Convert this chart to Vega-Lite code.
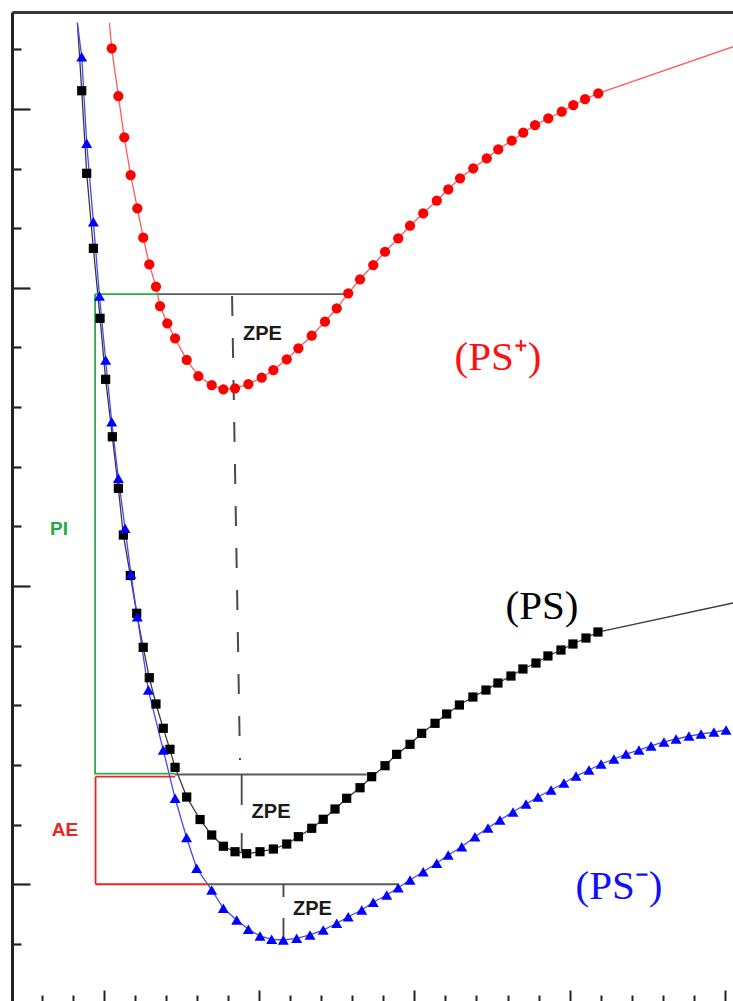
{
  "$schema": "https://vega.github.io/schema/vega-lite/v6.json",
  "width": 724,
  "height": 989,
  "autosize": {"type": "none"},
  "padding": {"left": 12, "top": 12, "right": -3, "bottom": 0},
  "background": "white",
  "config": {"view": {"stroke": null}},
  "datasets": {
    "curves": [
      {"state": "PS+", "r": 1.036, "E": 16.445, "sampled": false},
      {"state": "PS+", "r": 1.051, "E": 16.016, "sampled": true},
      {"state": "PS+", "r": 1.094, "E": 15.216, "sampled": true},
      {"state": "PS+", "r": 1.132, "E": 14.524, "sampled": true},
      {"state": "PS+", "r": 1.173, "E": 13.891, "sampled": true},
      {"state": "PS+", "r": 1.216, "E": 13.333, "sampled": true},
      {"state": "PS+", "r": 1.254, "E": 12.84, "sampled": true},
      {"state": "PS+", "r": 1.293, "E": 12.394, "sampled": true},
      {"state": "PS+", "r": 1.336, "E": 12.022, "sampled": true},
      {"state": "PS+", "r": 1.362, "E": 11.695, "sampled": true},
      {"state": "PS+", "r": 1.409, "E": 11.405, "sampled": true},
      {"state": "PS+", "r": 1.459, "E": 11.154, "sampled": true},
      {"state": "PS+", "r": 1.534, "E": 10.79, "sampled": true},
      {"state": "PS+", "r": 1.609, "E": 10.521, "sampled": true},
      {"state": "PS+", "r": 1.695, "E": 10.37, "sampled": true},
      {"state": "PS+", "r": 1.77, "E": 10.298, "sampled": true},
      {"state": "PS+", "r": 1.845, "E": 10.315, "sampled": true},
      {"state": "PS+", "r": 1.931, "E": 10.387, "sampled": true},
      {"state": "PS+", "r": 2.017, "E": 10.493, "sampled": true},
      {"state": "PS+", "r": 2.092, "E": 10.622, "sampled": true},
      {"state": "PS+", "r": 2.178, "E": 10.801, "sampled": true},
      {"state": "PS+", "r": 2.253, "E": 10.986, "sampled": true},
      {"state": "PS+", "r": 2.339, "E": 11.197, "sampled": true},
      {"state": "PS+", "r": 2.424, "E": 11.432, "sampled": true},
      {"state": "PS+", "r": 2.5, "E": 11.657, "sampled": true},
      {"state": "PS+", "r": 2.574, "E": 11.908, "sampled": true},
      {"state": "PS+", "r": 2.65, "E": 12.143, "sampled": true},
      {"state": "PS+", "r": 2.735, "E": 12.382, "sampled": true},
      {"state": "PS+", "r": 2.811, "E": 12.605, "sampled": true},
      {"state": "PS+", "r": 2.896, "E": 12.83, "sampled": true},
      {"state": "PS+", "r": 2.972, "E": 13.041, "sampled": true},
      {"state": "PS+", "r": 3.057, "E": 13.249, "sampled": true},
      {"state": "PS+", "r": 3.144, "E": 13.461, "sampled": true},
      {"state": "PS+", "r": 3.218, "E": 13.652, "sampled": true},
      {"state": "PS+", "r": 3.294, "E": 13.836, "sampled": true},
      {"state": "PS+", "r": 3.379, "E": 14.004, "sampled": true},
      {"state": "PS+", "r": 3.466, "E": 14.172, "sampled": true},
      {"state": "PS+", "r": 3.54, "E": 14.323, "sampled": true},
      {"state": "PS+", "r": 3.627, "E": 14.467, "sampled": true},
      {"state": "PS+", "r": 3.701, "E": 14.601, "sampled": true},
      {"state": "PS+", "r": 3.777, "E": 14.73, "sampled": true},
      {"state": "PS+", "r": 3.862, "E": 14.842, "sampled": true},
      {"state": "PS+", "r": 3.949, "E": 14.953, "sampled": true},
      {"state": "PS+", "r": 4.023, "E": 15.065, "sampled": true},
      {"state": "PS+", "r": 4.099, "E": 15.166, "sampled": true},
      {"state": "PS+", "r": 4.184, "E": 15.262, "sampled": true},
      {"state": "PS+", "r": 5.071, "E": 16.06, "sampled": false},

      {"state": "PS", "r": 0.83, "E": 16.445, "sampled": false},
      {"state": "PS", "r": 0.858, "E": 15.305, "sampled": true},
      {"state": "PS", "r": 0.89, "E": 13.92, "sampled": true},
      {"state": "PS", "r": 0.933, "E": 12.662, "sampled": true},
      {"state": "PS", "r": 0.976, "E": 11.489, "sampled": true},
      {"state": "PS", "r": 1.012, "E": 10.466, "sampled": true},
      {"state": "PS", "r": 1.055, "E": 9.503, "sampled": true},
      {"state": "PS", "r": 1.094, "E": 8.638, "sampled": true},
      {"state": "PS", "r": 1.126, "E": 7.855, "sampled": true},
      {"state": "PS", "r": 1.171, "E": 7.176, "sampled": true},
      {"state": "PS", "r": 1.212, "E": 6.543, "sampled": true},
      {"state": "PS", "r": 1.254, "E": 5.972, "sampled": true},
      {"state": "PS", "r": 1.293, "E": 5.463, "sampled": true},
      {"state": "PS", "r": 1.336, "E": 5.022, "sampled": true},
      {"state": "PS", "r": 1.383, "E": 4.614, "sampled": true},
      {"state": "PS", "r": 1.426, "E": 4.262, "sampled": true},
      {"state": "PS", "r": 1.459, "E": 3.96, "sampled": true},
      {"state": "PS", "r": 1.534, "E": 3.462, "sampled": true},
      {"state": "PS", "r": 1.62, "E": 3.085, "sampled": true},
      {"state": "PS", "r": 1.695, "E": 2.825, "sampled": true},
      {"state": "PS", "r": 1.77, "E": 2.637, "sampled": true},
      {"state": "PS", "r": 1.845, "E": 2.545, "sampled": true},
      {"state": "PS", "r": 1.92, "E": 2.512, "sampled": true},
      {"state": "PS", "r": 2.006, "E": 2.545, "sampled": true},
      {"state": "PS", "r": 2.092, "E": 2.59, "sampled": true},
      {"state": "PS", "r": 2.178, "E": 2.674, "sampled": true},
      {"state": "PS", "r": 2.253, "E": 2.797, "sampled": true},
      {"state": "PS", "r": 2.339, "E": 2.938, "sampled": true},
      {"state": "PS", "r": 2.413, "E": 3.089, "sampled": true},
      {"state": "PS", "r": 2.489, "E": 3.261, "sampled": true},
      {"state": "PS", "r": 2.564, "E": 3.441, "sampled": true},
      {"state": "PS", "r": 2.65, "E": 3.618, "sampled": true},
      {"state": "PS", "r": 2.725, "E": 3.803, "sampled": true},
      {"state": "PS", "r": 2.811, "E": 3.987, "sampled": true},
      {"state": "PS", "r": 2.886, "E": 4.178, "sampled": true},
      {"state": "PS", "r": 2.972, "E": 4.346, "sampled": true},
      {"state": "PS", "r": 3.047, "E": 4.53, "sampled": true},
      {"state": "PS", "r": 3.133, "E": 4.698, "sampled": true},
      {"state": "PS", "r": 3.208, "E": 4.854, "sampled": true},
      {"state": "PS", "r": 3.29, "E": 5.005, "sampled": true},
      {"state": "PS", "r": 3.377, "E": 5.139, "sampled": true},
      {"state": "PS", "r": 3.461, "E": 5.256, "sampled": true},
      {"state": "PS", "r": 3.538, "E": 5.374, "sampled": true},
      {"state": "PS", "r": 3.622, "E": 5.491, "sampled": true},
      {"state": "PS", "r": 3.699, "E": 5.609, "sampled": true},
      {"state": "PS", "r": 3.783, "E": 5.709, "sampled": true},
      {"state": "PS", "r": 3.86, "E": 5.827, "sampled": true},
      {"state": "PS", "r": 3.944, "E": 5.927, "sampled": true},
      {"state": "PS", "r": 4.021, "E": 6.028, "sampled": true},
      {"state": "PS", "r": 4.105, "E": 6.128, "sampled": true},
      {"state": "PS", "r": 4.182, "E": 6.229, "sampled": true},
      {"state": "PS", "r": 5.071, "E": 6.726, "sampled": false},

      {"state": "PS-", "r": 0.83, "E": 16.445, "sampled": false},
      {"state": "PS-", "r": 0.858, "E": 15.875, "sampled": true},
      {"state": "PS-", "r": 0.89, "E": 14.423, "sampled": true},
      {"state": "PS-", "r": 0.933, "E": 13.109, "sampled": true},
      {"state": "PS-", "r": 0.972, "E": 11.863, "sampled": true},
      {"state": "PS-", "r": 1.012, "E": 10.79, "sampled": true},
      {"state": "PS-", "r": 1.051, "E": 9.755, "sampled": true},
      {"state": "PS-", "r": 1.094, "E": 8.806, "sampled": true},
      {"state": "PS-", "r": 1.137, "E": 7.968, "sampled": true},
      {"state": "PS-", "r": 1.175, "E": 7.201, "sampled": true},
      {"state": "PS-", "r": 1.216, "E": 6.486, "sampled": true},
      {"state": "PS-", "r": 1.287, "E": 5.256, "sampled": true},
      {"state": "PS-", "r": 1.383, "E": 4.25, "sampled": true},
      {"state": "PS-", "r": 1.459, "E": 3.441, "sampled": true},
      {"state": "PS-", "r": 1.533, "E": 2.783, "sampled": true},
      {"state": "PS-", "r": 1.598, "E": 2.267, "sampled": true},
      {"state": "PS-", "r": 1.695, "E": 1.903, "sampled": true},
      {"state": "PS-", "r": 1.77, "E": 1.596, "sampled": true},
      {"state": "PS-", "r": 1.856, "E": 1.4, "sampled": true},
      {"state": "PS-", "r": 1.931, "E": 1.244, "sampled": true},
      {"state": "PS-", "r": 2.006, "E": 1.132, "sampled": true},
      {"state": "PS-", "r": 2.081, "E": 1.076, "sampled": true},
      {"state": "PS-", "r": 2.156, "E": 1.065, "sampled": true},
      {"state": "PS-", "r": 2.242, "E": 1.093, "sampled": true},
      {"state": "PS-", "r": 2.328, "E": 1.149, "sampled": true},
      {"state": "PS-", "r": 2.413, "E": 1.232, "sampled": true},
      {"state": "PS-", "r": 2.5, "E": 1.345, "sampled": true},
      {"state": "PS-", "r": 2.574, "E": 1.455, "sampled": true},
      {"state": "PS-", "r": 2.661, "E": 1.568, "sampled": true},
      {"state": "PS-", "r": 2.735, "E": 1.697, "sampled": true},
      {"state": "PS-", "r": 2.822, "E": 1.819, "sampled": true},
      {"state": "PS-", "r": 2.896, "E": 1.942, "sampled": true},
      {"state": "PS-", "r": 2.972, "E": 2.071, "sampled": true},
      {"state": "PS-", "r": 3.057, "E": 2.21, "sampled": true},
      {"state": "PS-", "r": 3.144, "E": 2.351, "sampled": true},
      {"state": "PS-", "r": 3.218, "E": 2.49, "sampled": true},
      {"state": "PS-", "r": 3.305, "E": 2.629, "sampled": true},
      {"state": "PS-", "r": 3.39, "E": 2.797, "sampled": true},
      {"state": "PS-", "r": 3.474, "E": 2.943, "sampled": true},
      {"state": "PS-", "r": 3.551, "E": 3.077, "sampled": true},
      {"state": "PS-", "r": 3.635, "E": 3.211, "sampled": true},
      {"state": "PS-", "r": 3.719, "E": 3.345, "sampled": true},
      {"state": "PS-", "r": 3.796, "E": 3.462, "sampled": true},
      {"state": "PS-", "r": 3.88, "E": 3.58, "sampled": true},
      {"state": "PS-", "r": 3.963, "E": 3.697, "sampled": true},
      {"state": "PS-", "r": 4.041, "E": 3.814, "sampled": true},
      {"state": "PS-", "r": 4.124, "E": 3.915, "sampled": true},
      {"state": "PS-", "r": 4.202, "E": 4.016, "sampled": true},
      {"state": "PS-", "r": 4.285, "E": 4.1, "sampled": true},
      {"state": "PS-", "r": 4.363, "E": 4.183, "sampled": true},
      {"state": "PS-", "r": 4.446, "E": 4.25, "sampled": true},
      {"state": "PS-", "r": 4.524, "E": 4.318, "sampled": true},
      {"state": "PS-", "r": 4.607, "E": 4.385, "sampled": true},
      {"state": "PS-", "r": 4.685, "E": 4.435, "sampled": true},
      {"state": "PS-", "r": 4.768, "E": 4.485, "sampled": true},
      {"state": "PS-", "r": 4.846, "E": 4.519, "sampled": true},
      {"state": "PS-", "r": 4.929, "E": 4.552, "sampled": true},
      {"state": "PS-", "r": 5.007, "E": 4.586, "sampled": true}
    ],
    "guides": [
      {"group": "PI", "r": 0.944, "E": 11.896, "r2": 0.944, "E2": 3.84},
      {"group": "PI", "r": 0.944, "E": 11.896, "r2": 1.349, "E2": 11.896},
      {"group": "PI", "r": 0.944, "E": 3.856, "r2": 1.459, "E2": 3.856},
      {"group": "AE", "r": 0.947, "E": 3.803, "r2": 1.459, "E2": 3.803},
      {"group": "AE", "r": 0.947, "E": 3.803, "r2": 0.947, "E2": 2.0},
      {"group": "AE", "r": 0.947, "E": 2.0, "r2": 1.663, "E2": 2.0},
      {"group": "level", "r": 1.349, "E": 11.896, "r2": 2.553, "E2": 11.896},
      {"group": "level", "r": 1.459, "E": 3.84, "r2": 2.693, "E2": 3.84},
      {"group": "level", "r": 1.663, "E": 2.0, "r2": 2.896, "E2": 2.0},
      {"group": "ZPE", "r": 1.888, "E": 3.832, "r2": 1.888, "E2": 3.328},
      {"group": "ZPE", "r": 1.888, "E": 2.859, "r2": 1.888, "E2": 2.523},
      {"group": "ZPE", "r": 2.157, "E": 2.004, "r2": 2.157, "E2": 1.786},
      {"group": "ZPE", "r": 2.157, "E": 1.434, "r2": 2.157, "E2": 1.065}
    ],
    "zpeDrop": [
      {"r": 1.826, "E": 11.863, "r2": 1.877, "E2": 4.083}
    ],
    "notes": [
      {"text": "ZPE", "r": 2.022, "E": 11.225},
      {"text": "ZPE", "r": 2.077, "E": 3.211},
      {"text": "ZPE", "r": 2.344, "E": 1.585}
    ],
    "bands": [
      {"text": "PI", "r": 0.712, "E": 7.956},
      {"text": "AE", "r": 0.75, "E": 2.901}
    ],
    "states": [
      {"state": "PS+", "text": "(PS⁺)", "r": 3.538, "E": 10.823},
      {"state": "PS", "text": "(PS)", "r": 3.822, "E": 6.648},
      {"state": "PS-", "text": "(PS⁻)", "r": 4.318, "E": 1.953}
    ]
  },
  "resolve": {
    "scale": {"color": "independent", "shape": "independent"},
    "axis": {"x": "independent"}
  },
  "layer": [
    {
      "data": {"name": "curves"},
      "mark": {"type": "line", "strokeWidth": 1.3, "clip": true},
      "encoding": {
        "x": {
          "field": "r", "type": "quantitative",
          "scale": {"domain": [0.409, 5.071], "nice": false, "zero": false},
          "axis": {
            "orient": "bottom", "domain": false, "labels": false, "title": null, "grid": false,
            "values": [0.6, 0.8, 1, 1.2, 1.4, 1.6, 1.8, 2, 2.2, 2.4, 2.6, 2.8, 3, 3.2, 3.4, 3.6, 3.8, 4, 4.2, 4.4, 4.6, 4.8, 5],
            "tickColor": "#222222", "tickWidth": 2,
            "tickSize": {"condition": {"test": "abs(datum.value - round(datum.value)) < 0.01", "value": -11}, "value": -6}
          }
        },
        "y": {
          "field": "E", "type": "quantitative",
          "scale": {"domain": [0.042, 16.625], "nice": false, "zero": false},
          "axis": {
            "orient": "left", "domain": true, "domainColor": "#222222", "domainWidth": 3,
            "labels": false, "title": null, "grid": false,
            "values": [1, 2, 3, 4, 5, 6, 7, 8, 9, 10, 11, 12, 13, 14, 15, 16],
            "tickColor": "#222222", "tickWidth": 2.2,
            "tickSize": {"condition": {"test": "indexof([2, 7, 12, 15], datum.value) >= 0", "value": -18}, "value": -9}
          }
        },
        "color": {
          "field": "state", "type": "nominal",
          "scale": {"domain": ["PS+", "PS", "PS-"], "range": ["#ff5a5a", "#3a3a3a", "#4646ff"]},
          "legend": null
        }
      }
    },
    {
      "data": {"name": "guides"},
      "mark": {"type": "rule", "strokeWidth": 1.8},
      "encoding": {
        "x": {"field": "r", "type": "quantitative",
              "axis": {"orient": "top", "domain": true, "domainColor": "#3a3a3a", "domainWidth": 3,
                       "ticks": false, "labels": false, "title": null, "grid": false}},
        "x2": {"field": "r2"},
        "y": {"field": "E", "type": "quantitative"},
        "y2": {"field": "E2"},
        "color": {
          "field": "group", "type": "nominal",
          "scale": {"domain": ["PI", "AE", "level", "ZPE"], "range": ["#2eaa48", "#ee2424", "#5a5a5a", "#444444"]},
          "legend": null
        }
      }
    },
    {
      "data": {"name": "zpeDrop"},
      "mark": {"type": "rule", "strokeWidth": 2, "color": "#4a4a4a", "strokeDash": [20, 22]},
      "encoding": {
        "x": {"field": "r", "type": "quantitative", "axis": null},
        "x2": {"field": "r2"},
        "y": {"field": "E", "type": "quantitative"},
        "y2": {"field": "E2"}
      }
    },
    {
      "data": {"name": "curves"},
      "transform": [{"filter": "datum.sampled && datum.state === 'PS+'"}],
      "mark": {"type": "point", "shape": "circle", "filled": true, "opacity": 1, "size": 105, "color": "#ff0000"},
      "encoding": {
        "x": {"field": "r", "type": "quantitative", "axis": null},
        "y": {"field": "E", "type": "quantitative"}
      }
    },
    {
      "data": {"name": "curves"},
      "transform": [{"filter": "datum.sampled && datum.state === 'PS'"}],
      "mark": {"type": "point", "shape": "square", "filled": true, "opacity": 1, "size": 85, "color": "#000000"},
      "encoding": {
        "x": {"field": "r", "type": "quantitative", "axis": null},
        "y": {"field": "E", "type": "quantitative"}
      }
    },
    {
      "data": {"name": "curves"},
      "transform": [{"filter": "datum.sampled && datum.state === 'PS-'"}],
      "mark": {"type": "point", "shape": "triangle-up", "filled": true, "opacity": 1, "size": 120, "color": "#0000ff"},
      "encoding": {
        "x": {"field": "r", "type": "quantitative", "axis": null},
        "y": {"field": "E", "type": "quantitative"}
      }
    },
    {
      "data": {"name": "notes"},
      "mark": {"type": "text", "font": "Liberation Sans", "fontWeight": "bold", "fontSize": 20, "color": "#1a1a1a", "align": "center", "baseline": "middle"},
      "encoding": {
        "x": {"field": "r", "type": "quantitative", "axis": null},
        "y": {"field": "E", "type": "quantitative"},
        "text": {"field": "text"}
      }
    },
    {
      "data": {"name": "bands"},
      "mark": {"type": "text", "font": "Liberation Sans", "fontWeight": "bold", "fontSize": 19, "align": "center", "baseline": "middle"},
      "encoding": {
        "x": {"field": "r", "type": "quantitative", "axis": null},
        "y": {"field": "E", "type": "quantitative"},
        "text": {"field": "text"},
        "color": {"field": "text", "type": "nominal", "scale": {"domain": ["PI", "AE"], "range": ["#22aa44", "#ee2222"]}, "legend": null}
      }
    },
    {
      "data": {"name": "states"},
      "mark": {"type": "text", "font": "Liberation Serif", "fontSize": 41, "align": "center", "baseline": "middle"},
      "encoding": {
        "x": {"field": "r", "type": "quantitative", "axis": null},
        "y": {"field": "E", "type": "quantitative"},
        "text": {"field": "text"},
        "color": {"field": "state", "type": "nominal", "scale": {"domain": ["PS+", "PS", "PS-"], "range": ["#ff1010", "#000000", "#1010ff"]}, "legend": null}
      }
    }
  ]
}
